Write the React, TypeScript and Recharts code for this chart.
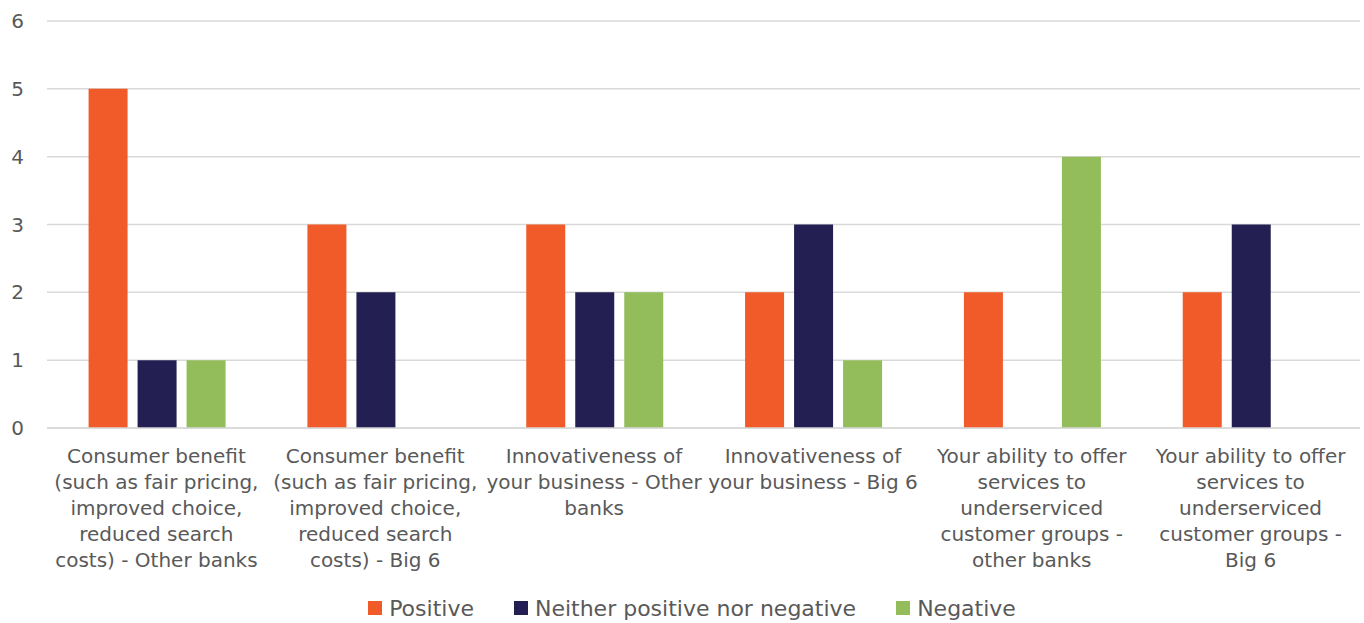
import React from "react";
import { BarChart, Bar, XAxis, YAxis, CartesianGrid, Legend } from "recharts";

const categories = [
  "Consumer benefit\n(such as fair pricing,\nimproved choice,\nreduced search\ncosts) - Other banks",
  "Consumer benefit\n(such as fair pricing,\nimproved choice,\nreduced search\ncosts) - Big 6",
  "Innovativeness of\nyour business - Other\nbanks",
  "Innovativeness of\nyour business - Big 6",
  "Your ability to offer\nservices to\nunderserviced\ncustomer groups -\nother banks",
  "Your ability to offer\nservices to\nunderserviced\ncustomer groups -\nBig 6",
];
const positive = [5, 3, 3, 2, 2, 2];
const neutral = [1, 2, 2, 3, 0, 3];
const negative = [1, 0, 2, 1, 4, 0];
const yTicks = [0, 1, 2, 3, 4, 5, 6];

const seriesNames = ["Positive", "Neither positive nor negative", "Negative"];
const colors = ["#F15A29", "#231F52", "#92BD5A"];

const data = categories.map((c, i) => ({
  name: c,
  positive: positive[i],
  neutral: neutral[i],
  negative: negative[i],
}));

const FONT = "'DejaVu Sans', sans-serif";
const GREY = "#595959";

const XTick = (props: any) => {
  const { x, y, payload } = props;
  const lines: string[] = String(payload.value).split("\n");
  return (
    <text x={x} y={y} textAnchor="middle" fill={GREY} fontSize={20} fontFamily={FONT}>
      {lines.map((l, i) => (
        <tspan key={i} x={x} dy={i === 0 ? 27 : 26}>
          {l}
        </tspan>
      ))}
    </text>
  );
};

const LegendContent = () => (
  <div
    style={{
      display: "flex",
      justifyContent: "center",
      alignItems: "center",
      fontFamily: FONT,
      fontSize: 22,
      color: GREY,
      paddingLeft: 24,
      height: 30,
    }}
  >
    {seriesNames.map((n, i) => (
      <div key={n} style={{ display: "flex", alignItems: "center", marginRight: i < 2 ? 40 : 0 }}>
        <div style={{ width: 14, height: 14, background: colors[i], marginRight: 7 }} />
        <span>{n}</span>
      </div>
    ))}
  </div>
);

export default function App() {
  return (
    <div style={{ width: 1364, height: 623 }}>
      <style>{`body{margin:0}`}</style>
      <BarChart
        width={1364}
        height={623}
        data={data}
        margin={{ top: 21, right: 4, left: 0, bottom: 0 }}
        barCategoryGap="19%"
        barGap={10}
      >
        <CartesianGrid vertical={false} stroke="#D9D9D9" strokeWidth={1.5} />
        <XAxis
          dataKey="name"
          interval={0}
          height={165}
          tick={<XTick />}
          tickLine={false}
          axisLine={{ stroke: "#D9D9D9", strokeWidth: 1.5 }}
        />
        <YAxis
          width={47}
          domain={[0, 6]}
          ticks={yTicks}
          tickLine={false}
          axisLine={false}
          tickMargin={17}
          tick={{ fill: GREY, fontSize: 20, fontFamily: FONT }}
        />
        <Legend verticalAlign="bottom" height={30} content={<LegendContent />} />
        <Bar dataKey="positive" name={seriesNames[0]} fill={colors[0]} isAnimationActive={false} />
        <Bar dataKey="neutral" name={seriesNames[1]} fill={colors[1]} isAnimationActive={false} />
        <Bar dataKey="negative" name={seriesNames[2]} fill={colors[2]} isAnimationActive={false} />
      </BarChart>
    </div>
  );
}
